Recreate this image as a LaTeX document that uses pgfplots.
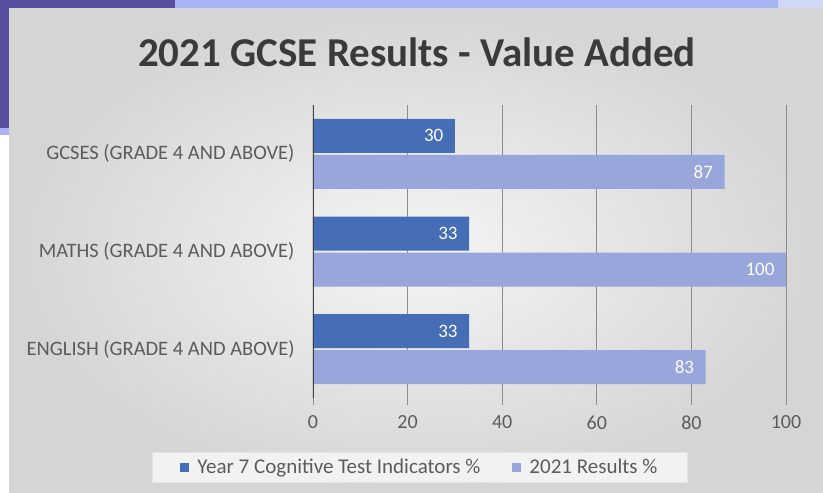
\documentclass[border=0pt]{standalone}
\usepackage{pgfplots}
\pgfplotsset{compat=1.18}
\usepackage{fontspec}
\setmainfont{Carlito}

\definecolor{slidepurple}{RGB}{88,78,158}
\definecolor{slideband}{RGB}{166,180,243}
\definecolor{slideband2}{RGB}{210,217,246}
\definecolor{darkbar}{RGB}{70,110,182}
\definecolor{lightbar}{RGB}{152,166,220}
\definecolor{gridgray}{RGB}{140,140,140}
\definecolor{labelgray}{RGB}{92,92,92}
\definecolor{titlegray}{RGB}{58,58,58}

\pgfplotstableread{
pos cognitive results
0   33        83
1   33        100
2   30        87
}\gcsedata

\begin{document}
\begin{tikzpicture}
% slide frame
\fill[white] (0pt,0pt) rectangle (823pt,493pt);
\fill[slidepurple] (0pt,484pt) rectangle (175pt,493pt);
\fill[slidepurple] (0pt,365pt) rectangle (9pt,493pt);
\fill[slideband] (175pt,484pt) rectangle (778pt,493pt);
\fill[slideband2] (778pt,484pt) rectangle (823pt,493pt);
\fill[slideband] (0pt,358pt) rectangle (9pt,365pt);
\shade[inner color=gray!8, outer color=gray!33] (9pt,0pt) rectangle (823pt,484pt);

\node[font=\bfseries\fontsize{41}{46}\selectfont, text=titlegray] at (417pt,441pt) {2021 GCSE Results - Value Added};

\begin{axis}[
    at={(313pt,95pt)}, anchor=south west,
    scale only axis,
    width=473pt, height=293pt,
    xbar,
    bar width=34pt,
    xmin=0, xmax=100,
    ymin=-0.5, ymax=2.5,
    xtick={0,20,...,100},
    ytick={0,1,2},
    yticklabels={ENGLISH (GRADE 4 AND ABOVE), MATHS (GRADE 4 AND ABOVE), GCSES (GRADE 4 AND ABOVE)},
    axis line style={draw=none},
    xmajorgrids,
    grid style={gridgray, line width=0.9pt},
    tick align=outside,
    xtick pos=lower,
    major tick length=7pt,
    xtick style={gridgray, line width=0.9pt},
    ytick style={draw=none},
    /pgf/number format/assume math mode=true,
    xticklabel style={font=\fontsize{20}{24}\selectfont, text=labelgray, yshift=-7pt},
    yticklabel style={font=\fontsize{20.5}{24}\selectfont, text=labelgray, xshift=-8pt},
    nodes near coords,
    every node near coord/.append style={anchor=east, xshift=-8pt, text=white, font=\fontsize{19}{22}\selectfont},
    legend columns=2,
    legend style={at={(0.226,-0.2355)}, anchor=center, fill=gray!10, draw=gray!22,
        font=\fontsize{21}{24}\selectfont, text=labelgray, inner xsep=28pt, inner ysep=5pt,
        /tikz/every even column/.append style={column sep=30pt},
        /tikz/every odd column/.append style={column sep=6pt}},
    legend image code/.code={\fill[#1, draw=none] (0pt,-4.5pt) rectangle (9pt,4.5pt);},
]
\addplot[fill=darkbar, draw=none, bar shift=18pt] table[x=cognitive, y=pos] {\gcsedata};
\addlegendentry{Year 7 Cognitive Test Indicators \%}
\addplot[fill=lightbar, draw=none, bar shift=-18pt] table[x=results, y=pos] {\gcsedata};
\addlegendentry{2021 Results \%}
\draw[black!75, line width=1.8pt] (axis cs:0,-0.5) -- (axis cs:0,2.5);
\end{axis}
\end{tikzpicture}
\end{document}
